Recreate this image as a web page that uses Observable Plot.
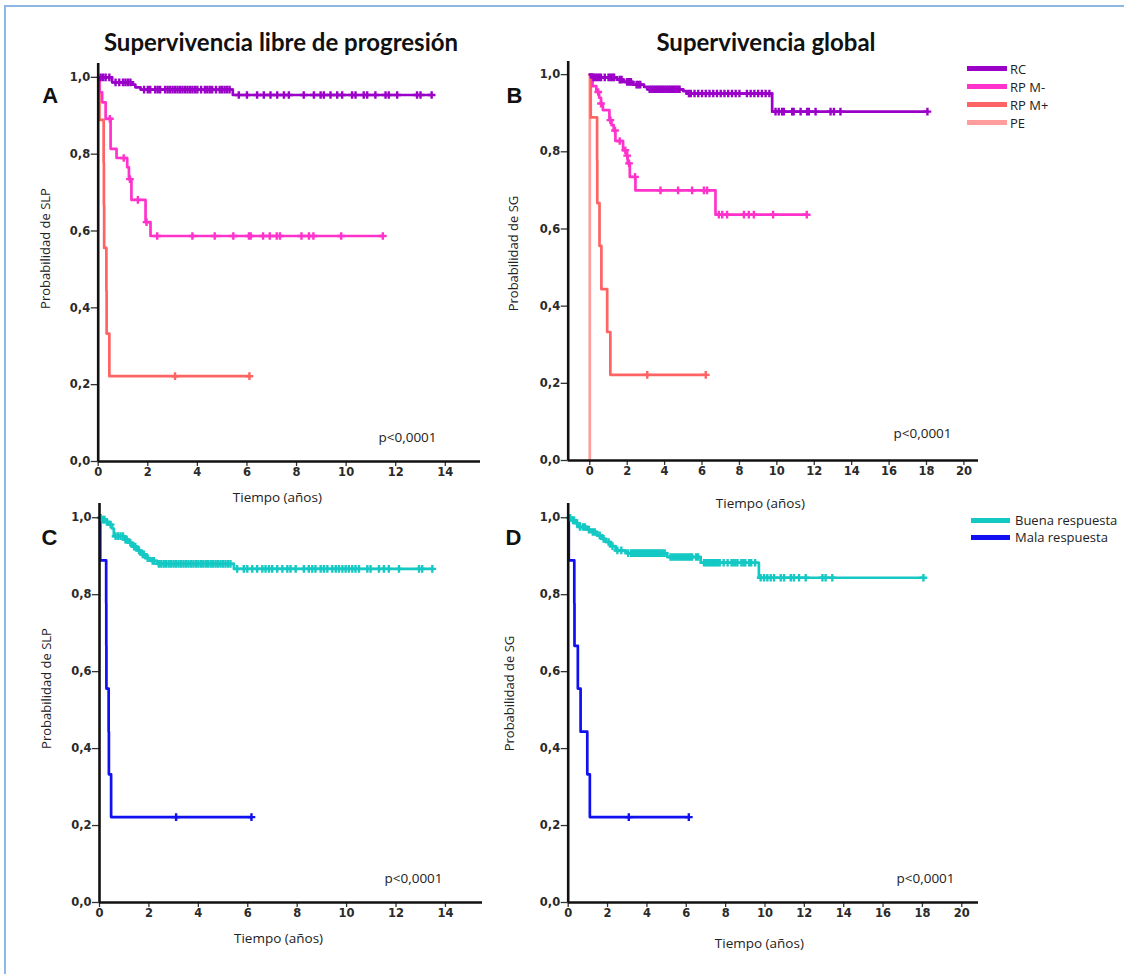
<!DOCTYPE html>
<html><head><meta charset="utf-8">
<script src="https://cdn.jsdelivr.net/npm/d3@7"></script>
<script src="https://cdn.jsdelivr.net/npm/@observablehq/plot@0.6"></script>
<style>
body{margin:0;background:#fff;}
#root{position:relative;width:1126px;height:974px;overflow:hidden;background:#fff;}
.panel{position:absolute;}
.title{position:absolute;font-family:Lato,sans-serif;font-weight:bold;font-size:24px;line-height:26px;color:#111;white-space:nowrap;transform:translateX(-50%);}
.leg{position:absolute;font-family:"Open Sans",sans-serif;font-size:13px;color:#222;}
.leg .row{position:absolute;display:flex;align-items:center;height:18px;white-space:nowrap;}
.leg .sw{height:5px;margin-right:3px;}
.bt{position:absolute;background:#8db8e3;}
</style></head><body>
<div id="root"></div>
<script>
// ---------- Data ----------
const titles = ["Supervivencia libre de progresión", "Supervivencia global"];
const groupsTop = ["RC", "RP M-", "RP M+", "PE"];
const colorsTop = ["#9a00c8", "#ff33cc", "#ff6464", "#ff9d9d"];
const groupsBottom = ["Buena respuesta", "Mala respuesta"];
const colorsBottom = ["#14c8c4", "#1010f0"];
const pText = "p<0,0001";
const xTicksShort = [0, 2, 4, 6, 8, 10, 12, 14];
const xTicksLong = [0, 2, 4, 6, 8, 10, 12, 14, 16, 18, 20];
const yTicks = [0, 0.2, 0.4, 0.6, 0.8, 1.0];

// Panel A: progression-free survival by response
const A_RC_t = [0, 0.56, 1.37, 1.5, 1.71, 5.43];
const A_RC_s = [1, 0.987, 0.981, 0.974, 0.968, 0.954];
const A_RC_end = 13.45;
const A_RC_c = [0.1,0.2,0.3,0.45,0.7,0.85,1.0,1.1,1.2,1.3,1.85,2.0,2.1,2.3,2.4,2.5,2.7,2.8,2.9,3.0,3.1,3.2,3.3,3.4,3.5,3.6,3.7,3.8,3.9,4.0,4.15,4.3,4.4,4.5,4.6,4.75,4.9,5.0,5.1,5.2,5.3,5.67,6.0,6.41,6.68,6.95,7.22,7.49,7.69,8.29,8.7,8.97,9.1,9.37,9.64,9.84,10.24,10.38,10.71,10.85,11.18,11.59,11.72,12.06,12.86,13.0,13.45];
const A_RPm_t = [0, 0.05, 0.16, 0.30, 0.5, 0.74, 1.17, 1.24, 1.34, 1.91, 2.11];
const A_RPm_s = [1, 0.961, 0.935, 0.892, 0.814, 0.79, 0.766, 0.735, 0.681, 0.623, 0.587];
const A_RPm_end = 11.48;
const A_RPm_c = [0.47,1.03,1.28,1.6,1.95,2.38,3.8,4.7,5.45,6.08,6.15,6.65,6.92,7.2,7.33,8.2,8.5,8.68,9.8,11.48];
const A_RPp_t = [0, 0.05, 0.22, 0.23, 0.24, 0.33, 0.34, 0.45];
const A_RPp_s = [1, 0.889, 0.778, 0.667, 0.556, 0.444, 0.333, 0.222];
const A_RPp_end = 6.1;
const A_RPp_c = [3.1, 6.1];

// Panel B: overall survival by response
const B_RC_t = [0, 0.12, 1.45, 1.8, 2.3, 2.9, 3.1, 5.0, 5.2, 9.75];
const B_RC_s = [1, 0.993, 0.987, 0.981, 0.974, 0.968, 0.962, 0.957, 0.951, 0.904];
const B_RC_end = 18.05;
const B_RC_c = [0.2,0.3,0.4,0.5,0.6,0.8,1.0,1.1,1.2,1.3,1.6,1.7,2.0,2.1,2.2,2.5,2.6,2.7,3.2,3.3,3.4,3.5,3.6,3.7,3.8,3.9,4.0,4.1,4.2,4.3,4.4,4.5,4.6,4.7,4.8,5.3,5.4,5.6,5.8,6.0,6.2,6.4,6.6,6.8,7.0,7.2,7.4,7.6,7.8,8.0,8.4,8.6,8.8,9.0,9.2,9.4,9.6,9.93,10.1,10.28,10.37,10.82,10.9,11.27,11.62,11.71,12.07,12.87,13.05,13.4,18.05];
const B_RPm_t = [0, 0.15, 0.35, 0.5, 0.6, 0.7, 1.05, 1.16, 1.28, 1.37, 1.78, 1.96, 2.03, 2.14, 2.44, 6.72];
const B_RPm_s = [1, 0.97, 0.955, 0.94, 0.925, 0.908, 0.882, 0.869, 0.855, 0.828, 0.804, 0.79, 0.77, 0.735, 0.70, 0.637];
const B_RPm_end = 11.6;
const B_RPm_c = [0.45,0.6,1.1,1.35,1.6,1.9,2.0,2.1,2.42,3.78,4.72,5.47,6.1,6.27,6.9,7.08,7.34,8.24,8.5,8.77,9.8,11.6];
const B_RPp_t = [0, 0.05, 0.39, 0.40, 0.52, 0.62, 0.93, 1.1];
const B_RPp_s = [1, 0.889, 0.778, 0.667, 0.556, 0.444, 0.333, 0.222];
const B_RPp_end = 6.2;
const B_RPp_c = [3.07, 6.2];
const B_PE_t = [0, 0];
const B_PE_s = [1, 0];
const B_PE_end = 0;

// Panel C: progression-free survival, good vs poor response
const C_Bu_t = [0, 0.11, 0.24, 0.38, 0.51, 0.58, 0.99, 1.19, 1.32, 1.53, 1.66, 1.86, 2.06, 2.33, 5.44];
const C_Bu_s = [1, 0.995, 0.989, 0.982, 0.972, 0.952, 0.943, 0.935, 0.925, 0.915, 0.905, 0.895, 0.888, 0.88, 0.867];
const C_Bu_end = 13.47;
const C_Bu_c = [0.05,0.15,0.2,0.3,0.45,0.65,0.75,0.85,0.95,1.05,1.1,1.25,1.4,1.45,1.6,1.75,1.8,1.95,2.15,2.2,2.4,2.5,2.6,2.7,2.8,2.9,3.0,3.1,3.2,3.3,3.4,3.5,3.6,3.7,3.8,3.9,4.0,4.1,4.2,4.3,4.4,4.5,4.6,4.7,4.8,4.9,5.0,5.1,5.2,5.3,5.57,5.84,5.98,6.18,6.38,6.59,6.72,6.86,6.99,7.19,7.4,7.6,7.73,7.94,8.27,8.47,8.61,8.74,8.95,9.08,9.22,9.42,9.56,9.69,9.83,9.96,10.09,10.23,10.36,10.5,10.84,10.97,11.31,11.51,11.71,12.12,12.93,13.06,13.47];
const C_Ma_t = [0, 0.03, 0.27, 0.275, 0.28, 0.37, 0.38, 0.47];
const C_Ma_s = [1, 0.889, 0.778, 0.667, 0.556, 0.444, 0.333, 0.222];
const C_Ma_end = 6.15;
const C_Ma_c = [3.1, 6.15];

// Panel D: overall survival, good vs poor response
const D_Bu_t = [0, 0.2, 0.37, 0.54, 0.97, 1.14, 1.47, 1.73, 1.9, 2.15, 2.41, 2.92, 5.03, 6.73, 9.69];
const D_Bu_s = [1, 0.993, 0.986, 0.976, 0.969, 0.963, 0.954, 0.945, 0.937, 0.926, 0.915, 0.908, 0.898, 0.883, 0.844];
const D_Bu_end = 18.05;
const D_Bu_c = [0.1,0.25,0.3,0.45,0.6,0.75,0.85,1.05,1.25,1.35,1.6,1.8,2.05,2.25,2.5,2.7,3.05,3.2,3.3,3.4,3.5,3.6,3.7,3.8,3.9,4.0,4.1,4.2,4.3,4.4,4.5,4.6,4.7,4.8,4.9,5.2,5.3,5.4,5.5,5.6,5.7,5.8,5.9,6.0,6.1,6.2,6.3,6.5,6.6,6.9,7.0,7.1,7.2,7.3,7.4,7.5,7.6,7.7,7.9,8.1,8.3,8.4,8.5,8.6,8.8,8.9,9.0,9.2,9.3,9.5,9.78,9.95,10.12,10.29,10.46,10.8,10.97,11.31,11.47,11.73,12.07,12.92,13.08,13.42,18.05];
const D_Ma_t = [0, 0.03, 0.31, 0.32, 0.49, 0.63, 0.97, 1.1];
const D_Ma_s = [1, 0.889, 0.778, 0.667, 0.556, 0.444, 0.333, 0.222];
const D_Ma_end = 6.13;
const D_Ma_c = [3.08, 6.13];

// ---------- Helpers ----------
function stepRows(times, surv, end) {
  const rows = times.map((t, i) => ({t, s: surv[i]}));
  rows.push({t: end, s: surv[surv.length - 1]});
  return rows;
}
function censorRows(times, surv, cens) {
  return cens.map(c => {
    let s = surv[0];
    for (let i = 0; i < times.length; i++) if (times[i] <= c) s = surv[i];
    return {t: c, s};
  });
}
const fmtY = d => d.toFixed(1).replace(".", ",");
const tickFont = "DejaVu Sans";
const labelFont = "Open Sans";

function panel(cfg) {
  const marks = [];
  for (const s of cfg.series) {
    marks.push(Plot.line(stepRows(s.t, s.s, s.end), {x: "t", y: "s", stroke: s.color, strokeWidth: 2.7, curve: "step-after"}));
    if (s.c && s.c.length) marks.push(Plot.dot(censorRows(s.t, s.s, s.c), {x: "t", y: "s", symbol: "plus", r: 2.6, stroke: s.color, strokeWidth: 2.4}));
  }
  marks.push(
    Plot.axisX({ticks: cfg.xTicks, tickFormat: d => String(d), tickSize: 5, tickPadding: 1, label: null,
      fontSize: 11.5, fontWeight: "bold", fontFamily: tickFont, fill: "#2a2a2a", stroke: "#333", strokeWidth: 1.3}),
    Plot.axisY({ticks: yTicks, tickFormat: fmtY, tickSize: 7, tickPadding: 1, label: null,
      fontSize: 11.5, fontWeight: "bold", fontFamily: tickFont, fill: "#2a2a2a", stroke: "#333", strokeWidth: 1.3}),
    Plot.ruleX([cfg.xDomain[0]], {stroke: "#111", strokeWidth: 2.6}),
    Plot.ruleY([0], {stroke: "#111", strokeWidth: 2.6}),
    Plot.text([cfg.letter], {text: d => d, frameAnchor: "top-left", textAnchor: "middle", lineAnchor: "middle",
      dx: cfg.letterPos[0], dy: cfg.letterPos[1], fontSize: 22, fontWeight: "bold", fontFamily: "Liberation Sans", fill: "#111"}),
    Plot.text([cfg.ylabel], {text: d => d, frameAnchor: "left", textAnchor: "middle", lineAnchor: "middle", rotate: -90,
      dx: cfg.ylabPos[0], dy: cfg.ylabPos[1], fontSize: 13, fontFamily: labelFont, fill: "#222"}),
    Plot.text([cfg.xlabel], {text: d => d, frameAnchor: "bottom", textAnchor: "middle", lineAnchor: "middle",
      dx: cfg.xlabPos[0], dy: cfg.xlabPos[1], fontSize: 13.5, fontFamily: labelFont, fill: "#222"}),
    Plot.text([pText], {text: d => d, frameAnchor: "bottom-right", textAnchor: "middle", lineAnchor: "middle",
      dx: cfg.pPos[0], dy: cfg.pPos[1], fontSize: 13.5, fontFamily: labelFont, fill: "#222"})
  );
  const svg = Plot.plot({
    width: cfg.width, height: cfg.height,
    marginLeft: cfg.m[0], marginRight: cfg.m[1], marginTop: cfg.m[2], marginBottom: cfg.m[3],
    x: {domain: cfg.xDomain},
    y: {domain: cfg.yDomain},
    style: {background: "none", overflow: "visible"},
    marks
  });
  svg.classList.add("panel");
  svg.style.left = cfg.left + "px";
  svg.style.top = cfg.top + "px";
  document.getElementById("root").appendChild(svg);
}

const root = document.getElementById("root");
// light blue frame lines
for (const [l, t, w, h] of [[4, 5, 1120, 1.5], [4, 5, 1.5, 969]]) {
  const d = document.createElement("div");
  d.className = "bt";
  Object.assign(d.style, {left: l + "px", top: t + "px", width: w + "px", height: h + "px"});
  root.appendChild(d);
}

panel({
  left: 0, top: 40, width: 500, height: 470, m: [97.7, 20, 23, 49],
  xDomain: [0, 15.42], yDomain: [0, 1.036], xTicks: xTicksShort,
  letter: "A", letterPos: [-48, 32], ylabel: "Probabilidad de SLP", ylabPos: [-52.7, -14],
  xlabel: "Tiempo (años)", xlabPos: [-12, 36], pPos: [-73, -24],
  series: [
    {t: A_RPp_t, s: A_RPp_s, end: A_RPp_end, c: A_RPp_c, color: colorsTop[2]},
    {t: A_RPm_t, s: A_RPm_s, end: A_RPm_end, c: A_RPm_c, color: colorsTop[1]},
    {t: A_RC_t, s: A_RC_s, end: A_RC_end, c: A_RC_c, color: colorsTop[0]}
  ]
});
panel({
  left: 500, top: 40, width: 500, height: 470, m: [67.7, 22, 21, 50],
  xDomain: [-1.154, 20.78], yDomain: [0, 1.034], xTicks: xTicksLong,
  letter: "B", letterPos: [-53.7, 34], ylabel: "Probabilidad de SG", ylabPos: [-54.7, -7.5],
  xlabel: "Tiempo (años)", xlabPos: [-13, 43], pPos: [-56, -27],
  series: [
    {t: B_PE_t, s: B_PE_s, end: B_PE_end, c: [], color: colorsTop[3]},
    {t: B_RPp_t, s: B_RPp_s, end: B_RPp_end, c: B_RPp_c, color: colorsTop[2]},
    {t: B_RPm_t, s: B_RPm_s, end: B_RPm_end, c: B_RPm_c, color: colorsTop[1]},
    {t: B_RC_t, s: B_RC_s, end: B_RC_end, c: B_RC_c, color: colorsTop[0]}
  ]
});
panel({
  left: 0, top: 480, width: 500, height: 490, m: [99, 18, 23, 68],
  xDomain: [0, 15.5], yDomain: [0, 1.037], xTicks: xTicksShort,
  letter: "C", letterPos: [-50, 34], ylabel: "Probabilidad de SLP", ylabPos: [-53, -14.5],
  xlabel: "Tiempo (años)", xlabPos: [-12.5, 36], pPos: [-69, -24],
  series: [
    {t: C_Ma_t, s: C_Ma_s, end: C_Ma_end, c: C_Ma_c, color: colorsBottom[1]},
    {t: C_Bu_t, s: C_Bu_s, end: C_Bu_end, c: C_Bu_c, color: colorsBottom[0]}
  ]
});
panel({
  left: 500, top: 480, width: 500, height: 490, m: [67.7, 22, 23, 68],
  xDomain: [0, 20.85], yDomain: [0, 1.037], xTicks: xTicksLong,
  letter: "D", letterPos: [-54.7, 34], ylabel: "Probabilidad de SG", ylabPos: [-58.7, -9.5],
  xlabel: "Tiempo (años)", xlabPos: [-14, 41], pPos: [-53, -24],
  series: [
    {t: D_Ma_t, s: D_Ma_s, end: D_Ma_end, c: D_Ma_c, color: colorsBottom[1]},
    {t: D_Bu_t, s: D_Bu_s, end: D_Bu_end, c: D_Bu_c, color: colorsBottom[0]}
  ]
});

// titles
[[titles[0], 281], [titles[1], 766]].forEach(([txt, cx]) => {
  const d = document.createElement("div");
  d.className = "title";
  d.textContent = txt;
  d.style.left = cx + "px";
  d.style.top = "29px";
  root.appendChild(d);
});

// legends
function legend(names, colors, x, y0, step, swW, gap) {
  const box = document.createElement("div");
  box.className = "leg";
  box.style.left = x + "px";
  box.style.top = "0px";
  names.forEach((n, i) => {
    const row = document.createElement("div");
    row.className = "row";
    row.style.top = (y0 + i * step - 9) + "px";
    const sw = document.createElement("div");
    sw.className = "sw";
    sw.style.width = swW + "px";
    sw.style.marginRight = gap + "px";
    sw.style.background = colors[i];
    const tx = document.createElement("span");
    tx.textContent = n;
    row.appendChild(sw); row.appendChild(tx);
    box.appendChild(row);
  });
  root.appendChild(box);
}
legend(groupsTop, colorsTop, 967, 68.5, 18.1, 40, 3);
legend(groupsBottom, colorsBottom, 971, 520, 17.3, 39, 5);
</script>
</body></html>
